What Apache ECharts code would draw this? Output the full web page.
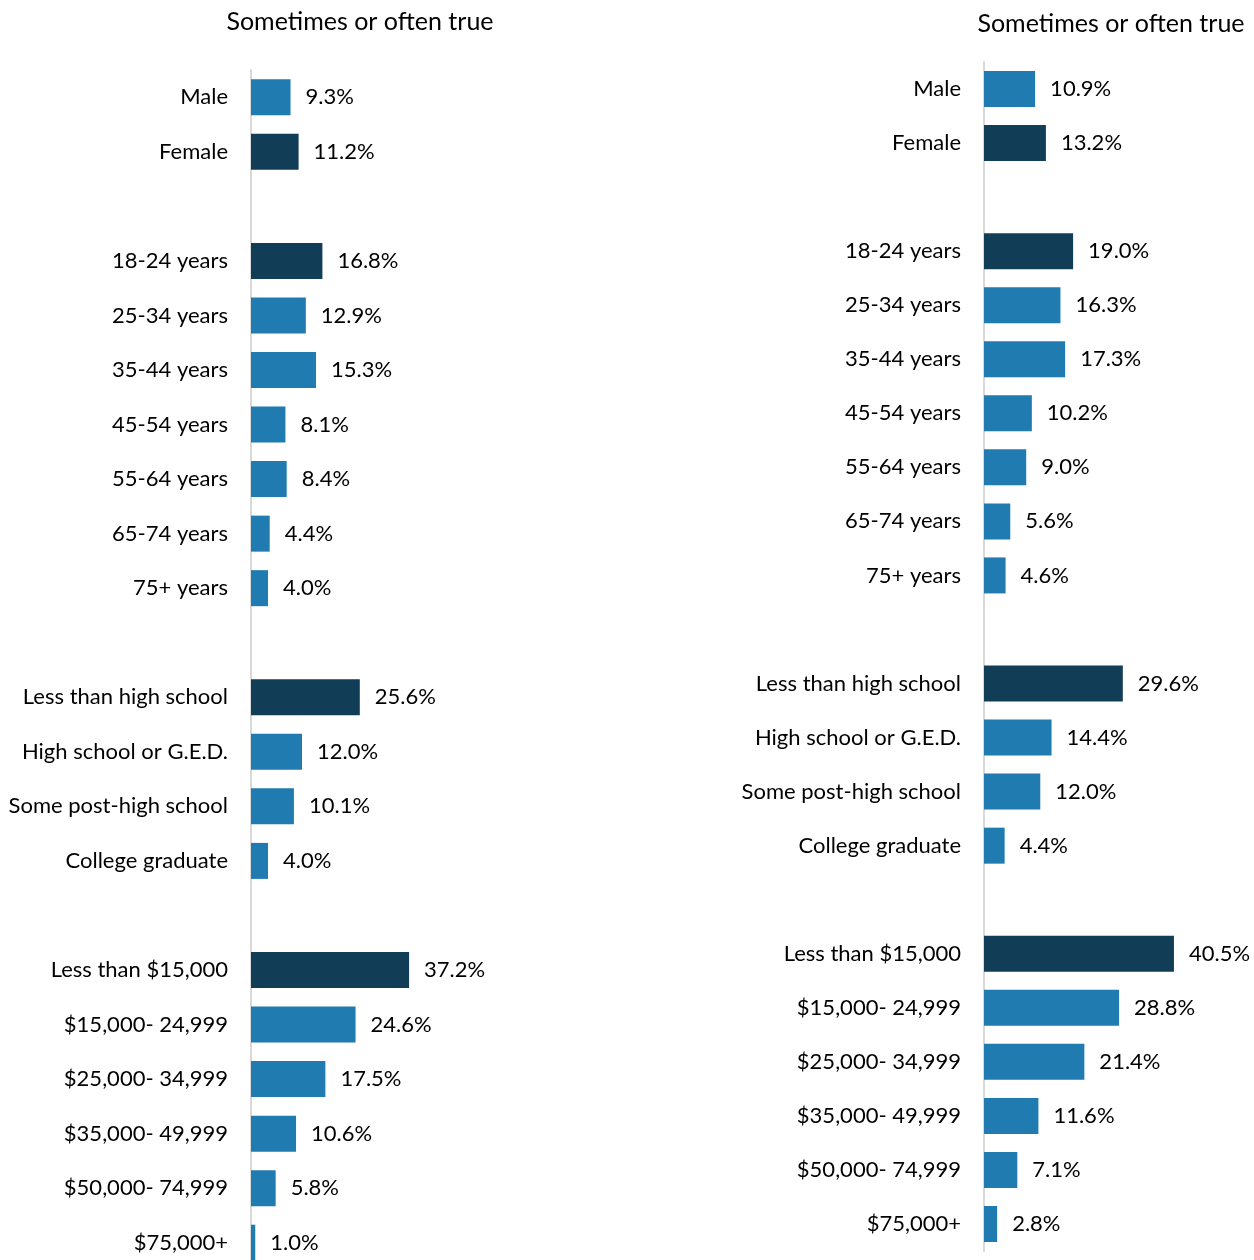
<!DOCTYPE html>
<html><head><meta charset="utf-8">
<script src="https://cdn.jsdelivr.net/npm/echarts@6/dist/echarts.min.js"></script>
<style>html,body{margin:0;padding:0;background:#fff}#c{width:1254px;height:1260px}</style>
</head><body><div id="c"></div>
<script>
const titleText = 'Sometimes or often true';
const sexCats = ['Male', 'Female'];
const ageCats = ['18-24 years', '25-34 years', '35-44 years', '45-54 years', '55-64 years', '65-74 years', '75+ years'];
const eduCats = ['Less than high school', 'High school or G.E.D.', 'Some post-high school', 'College graduate'];
const incomeCats = ['Less than $15,000', '$15,000- 24,999', '$25,000- 34,999', '$35,000- 49,999', '$50,000- 74,999', '$75,000+'];

const leftSex = [9.3, 11.2];
const leftAge = [16.8, 12.9, 15.3, 8.1, 8.4, 4.4, 4.0];
const leftEdu = [25.6, 12.0, 10.1, 4.0];
const leftIncome = [37.2, 24.6, 17.5, 10.6, 5.8, 1.0];

const rightSex = [10.9, 13.2];
const rightAge = [19.0, 16.3, 17.3, 10.2, 9.0, 5.6, 4.6];
const rightEdu = [29.6, 14.4, 12.0, 4.4];
const rightIncome = [40.5, 28.8, 21.4, 11.6, 7.1, 2.8];

const highlighted = ['Female', '18-24 years', 'Less than high school', 'Less than $15,000'];

const LIGHT = '#1f7bb0', DARK = '#123d57';

function build(groupsCats, groupsVals) {
  const cats = [], vals = [];
  groupsCats.forEach((g, gi) => {
    if (gi > 0) { cats.push(' '.repeat(gi)); vals.push(null); }
    g.forEach((c, i) => { cats.push(c); vals.push(groupsVals[gi][i]); });
  });
  return { cats, vals };
}
const L = build([sexCats, ageCats, eduCats, incomeCats], [leftSex, leftAge, leftEdu, leftIncome]);
const R = build([sexCats, ageCats, eduCats, incomeCats], [rightSex, rightAge, rightEdu, rightIncome]);

const FONT = 'Lato';
function seriesData(d) {
  return d.vals.map((v, i) => v == null ? null : {
    value: v,
    itemStyle: { color: highlighted.includes(d.cats[i]) ? DARK : LIGHT }
  });
}
function yAx(cats, gi) {
  return {
    type: 'category', gridIndex: gi, data: cats, inverse: true,
    axisLine: { show: true, lineStyle: { color: '#d9d9d9', width: 2 } },
    axisTick: { show: false },
    axisLabel: { color: '#000', fontFamily: FONT, fontSize: 22, margin: 23 }
  };
}
function xAx(gi) {
  return { type: 'value', gridIndex: gi, min: 0, max: 50, show: false, splitLine: { show: false } };
}
function ser(d, gi) {
  return {
    type: 'bar', xAxisIndex: gi, yAxisIndex: gi, barWidth: 36,
    data: seriesData(d),
    label: { show: true, position: 'right', distance: 15, color: '#000', fontFamily: FONT, fontSize: 22,
      formatter: p => p.value.toFixed(1) + '%' }
  };
}
const chart = echarts.init(document.getElementById('c'));
chart.setOption({
  animation: false,
  backgroundColor: '#fff',
  title: [
    { text: titleText, left: 355, top: 4, textAlign: 'center', textStyle: { fontFamily: FONT, fontSize: 25, fontWeight: 'normal', color: '#000' } },
    { text: titleText, left: 1106, top: 6, textAlign: 'center', textStyle: { fontFamily: FONT, fontSize: 25, fontWeight: 'normal', color: '#000' } }
  ],
  grid: [
    { left: 251, top: 70, width: 212.5, height: 1200, outerBoundsMode: 'none', containLabel: false },
    { left: 984, top: 62, width: 234.5, height: 1189, outerBoundsMode: 'none', containLabel: false }
  ],
  xAxis: [xAx(0), xAx(1)],
  yAxis: [yAx(L.cats, 0), yAx(R.cats, 1)],
  series: [ser(L, 0), ser(R, 1)]
});
</script></body></html>
